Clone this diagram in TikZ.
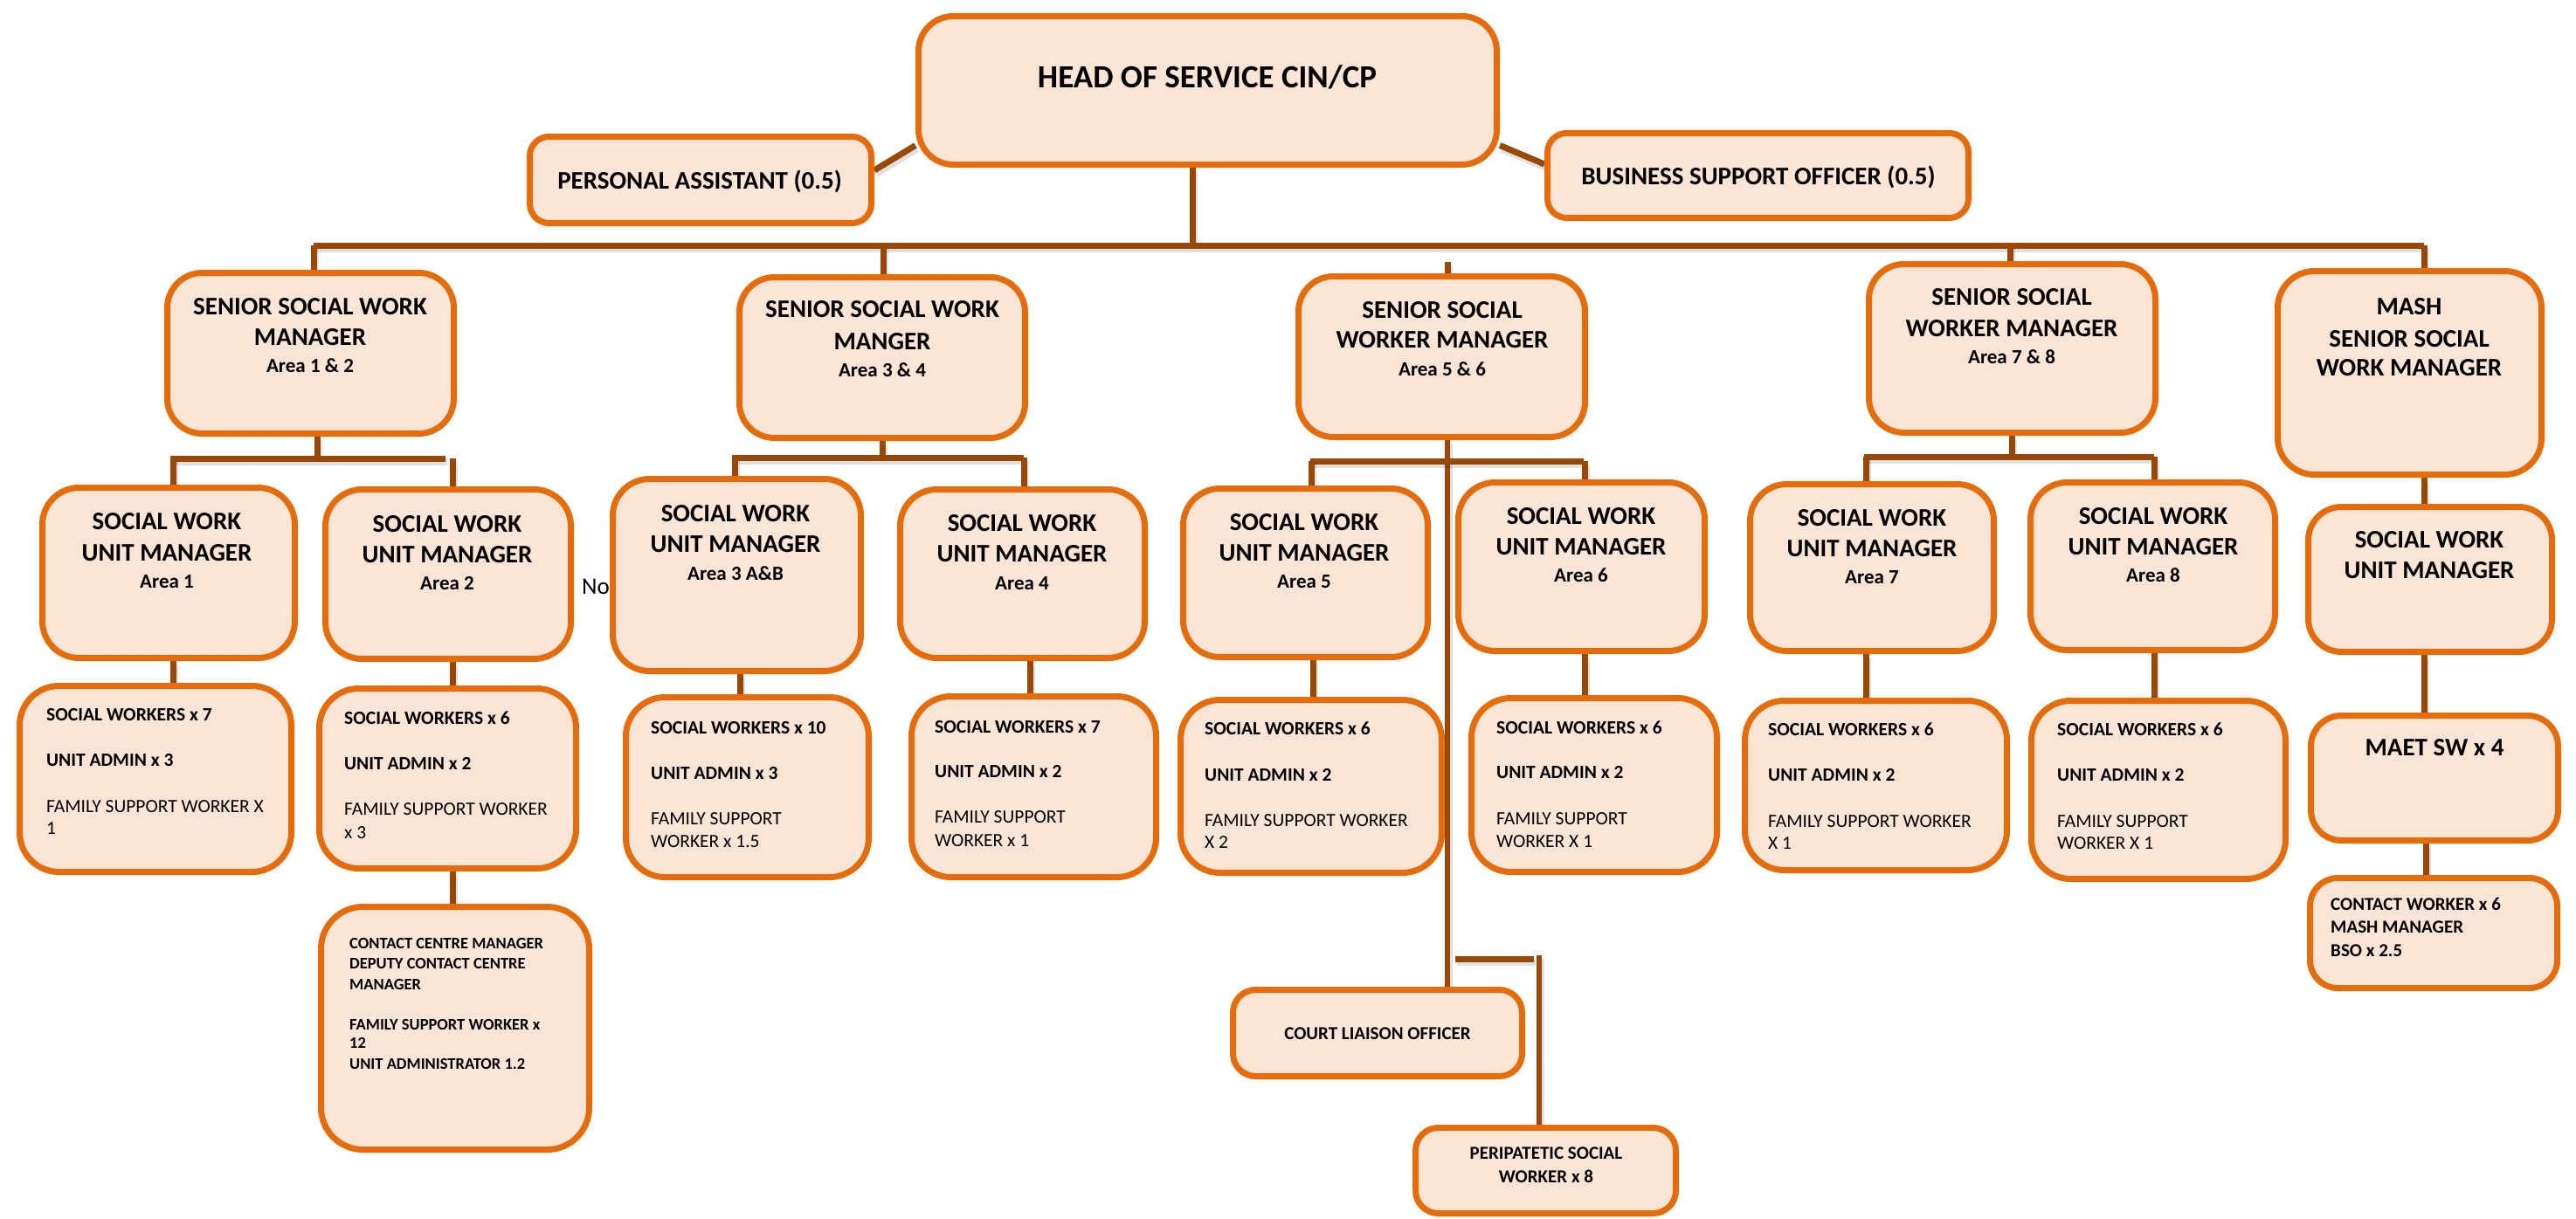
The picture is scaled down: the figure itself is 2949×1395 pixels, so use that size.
\documentclass[tikz,border=0pt]{standalone}
\usepackage{fontspec}
\setmainfont{Carlito}
\usetikzlibrary{calc}
\definecolor{bfill}{RGB}{251,229,214}
\definecolor{bline}{RGB}{228,108,10}
\definecolor{cline}{RGB}{152,72,7}
\pgfdeclarelayer{bg}
\pgfsetlayers{bg,main}
\newcommand\mkbox[6]{%
  \pgfmathsetmacro\bxw{#4-#2-7}%
  \pgfmathsetmacro\bxh{#5-#3-7}%
  \pgfmathsetmacro\bxcx{(#2+#4)/2}%
  \pgfmathsetmacro\bxcy{(#3+#5)/2}%
  \node[orgbox, rounded corners=#6pt, minimum width=\bxw pt, minimum height=\bxh pt] (#1) at (\bxcx,\bxcy) {};}
\tikzset{
  orgbox/.style={draw=bline, fill=bfill, line width=7pt, inner sep=0pt},
  conn/.style={draw=cline, line width=7pt,
    preaction={draw=black, draw opacity=0.12, line width=8pt, transform canvas={shift={(2pt,-4pt)}}}},
  tA/.style={font=\bfseries\fontsize{37}{44}\selectfont, anchor=base, inner sep=0pt},
  tB/.style={font=\bfseries\fontsize{29}{34}\selectfont, anchor=base, inner sep=0pt},
  tC/.style={font=\bfseries\fontsize{29}{34}\selectfont, anchor=base, inner sep=0pt},
  tD/.style={font=\bfseries\fontsize{23}{27}\selectfont, anchor=base, inner sep=0pt},
  tE/.style={font=\bfseries\fontsize{21.5}{26}\selectfont, anchor=base west, inner sep=0pt},
  tF/.style={font=\fontsize{21.5}{26}\selectfont, anchor=base west, inner sep=0pt},
  tG/.style={font=\bfseries\fontsize{18.5}{22}\selectfont, anchor=base west, inner sep=0pt},
  tH/.style={font=\bfseries\fontsize{21}{25}\selectfont, anchor=base west, inner sep=0pt},
  tI/.style={font=\bfseries\fontsize{21}{25}\selectfont, anchor=base, inner sep=0pt},
  tN/.style={font=\fontsize{27}{32}\selectfont, anchor=base west, inner sep=0pt},
}
\begin{document}
\begin{tikzpicture}[x=1pt,y=-1pt]
\useasboundingbox (0,0) rectangle (2949,1395);
% top level
\mkbox{head}{1048}{15}{1717}{192}{40}
\mkbox{pa}{603}{153}{1001}{259}{22}
\mkbox{bso}{1768}{149}{2257}{253}{22}
% senior managers
\mkbox{s1}{188}{309}{523}{500}{40}
\mkbox{s2}{843}{314}{1177}{505}{40}
\mkbox{s3}{1483}{313}{1818}{504}{40}
\mkbox{s4}{2136}{299}{2471}{499}{40}
\mkbox{s5}{2604}{307}{2913}{547}{42}
% unit managers
\mkbox{u1}{45}{555}{341}{757}{42}
\mkbox{u2}{369}{557}{657}{758}{42}
\node[tN] (nofrag) at (666,680) {No};
\mkbox{u3}{698}{545}{989}{772}{42}
\mkbox{u4}{1027}{557}{1314}{757}{42}
\mkbox{u5}{1351}{556}{1638}{756}{42}
\mkbox{u6}{1666}{549}{1955}{749}{42}
\mkbox{u7}{2000}{551}{2286}{749}{42}
\mkbox{u8}{2321}{549}{2608}{748}{42}
\mkbox{u9}{2639}{577}{2925}{750}{38}
% teams
\mkbox{w1}{19}{782}{337}{1002}{45}
\mkbox{w2}{362}{785}{663}{998}{45}
\mkbox{w3}{713}{795}{998}{1008}{45}
\mkbox{w4}{1040}{794}{1327}{1008}{45}
\mkbox{w5}{1348}{798}{1654}{1003}{45}
\mkbox{w6}{1681}{796}{1969}{1002}{45}
\mkbox{w7}{1994}{799}{2301}{1000}{45}
\mkbox{w8}{2322}{799}{2620}{1010}{45}
\mkbox{maet}{2642}{816}{2932}{966}{35}
\mkbox{contact}{2641}{1002}{2931}{1135}{32}
\mkbox{ccm}{364}{1035}{678}{1320}{48}
\mkbox{court}{1408}{1130}{1746}{1236}{26}
\mkbox{peri}{1617}{1288}{1922}{1393}{26}

% texts
\node[tA] (headt) at (1382,100) {HEAD OF SERVICE CIN/CP};
\node[tB] (pat) at (801,216) {PERSONAL ASSISTANT (0.5)};
\node[tB] (bsot) at (2013,211) {BUSINESS SUPPORT OFFICER (0.5)};

\node[tC] (s1a) at (355,360) {SENIOR SOCIAL WORK};
\node[tC] (s1b) at (355,395) {MANAGER};
\node[tD] (s1c) at (355,426) {Area 1 \& 2};
\node[tC] (s2a) at (1010,363) {SENIOR SOCIAL WORK};
\node[tC] (s2b) at (1010,400) {MANGER};
\node[tD] (s2c) at (1010,431) {Area 3 \& 4};
\node[tC] (s3a) at (1651,364) {SENIOR SOCIAL};
\node[tC] (s3b) at (1651,398) {WORKER MANAGER};
\node[tD] (s3c) at (1651,430) {Area 5 \& 6};
\node[tC] (s4a) at (2303,349) {SENIOR SOCIAL};
\node[tC] (s4b) at (2303,385) {WORKER MANAGER};
\node[tD] (s4c) at (2303,416) {Area 7 \& 8};
\node[tC] (s5a) at (2758,360) {MASH};
\node[tC] (s5b) at (2758,397) {SENIOR SOCIAL};
\node[tC] (s5c) at (2758,430) {WORK MANAGER};

\node[tC] (u1a) at (191,606) {SOCIAL WORK};
\node[tC] (u1b) at (191,642) {UNIT MANAGER};
\node[tD] (u1c) at (191,673) {Area 1};
\node[tC] (u2a) at (512,609) {SOCIAL WORK};
\node[tC] (u2b) at (512,644) {UNIT MANAGER};
\node[tD] (u2c) at (512,675) {Area 2};
\node[tC] (u3a) at (842,597) {SOCIAL WORK};
\node[tC] (u3b) at (842,632) {UNIT MANAGER};
\node[tD] (u3c) at (842,664) {Area 3 A\&B};
\node[tC] (u4a) at (1170,608) {SOCIAL WORK};
\node[tC] (u4b) at (1170,643) {UNIT MANAGER};
\node[tD] (u4c) at (1170,675) {Area 4};
\node[tC] (u5a) at (1493,607) {SOCIAL WORK};
\node[tC] (u5b) at (1493,642) {UNIT MANAGER};
\node[tD] (u5c) at (1493,673) {Area 5};
\node[tC] (u6a) at (1810,600) {SOCIAL WORK};
\node[tC] (u6b) at (1810,635) {UNIT MANAGER};
\node[tD] (u6c) at (1810,666) {Area 6};
\node[tC] (u7a) at (2143,602) {SOCIAL WORK};
\node[tC] (u7b) at (2143,637) {UNIT MANAGER};
\node[tD] (u7c) at (2143,668) {Area 7};
\node[tC] (u8a) at (2465,600) {SOCIAL WORK};
\node[tC] (u8b) at (2465,635) {UNIT MANAGER};
\node[tD] (u8c) at (2465,666) {Area 8};
\node[tC] (u9a) at (2781,627) {SOCIAL WORK};
\node[tC] (u9b) at (2781,662) {UNIT MANAGER};

\node[tE] (w1a) at (53,825) {SOCIAL WORKERS x 7};
\node[tE] (w1b) at (53,877) {UNIT ADMIN x 3};
\node[tF] (w1c) at (53,930) {FAMILY SUPPORT WORKER X};
\node[tF] (w1d) at (53,955) {1};
\node[tE] (w2a) at (394,829) {SOCIAL WORKERS x 6};
\node[tE] (w2b) at (394,881) {UNIT ADMIN x 2};
\node[tF] (w2c) at (394,933) {FAMILY SUPPORT WORKER};
\node[tF] (w2d) at (394,960) {x 3};
\node[tE] (w3a) at (745,840) {SOCIAL WORKERS x 10};
\node[tE] (w3b) at (745,892) {UNIT ADMIN x 3};
\node[tF] (w3c) at (745,944) {FAMILY SUPPORT};
\node[tF] (w3d) at (745,970) {WORKER x 1.5};
\node[tE] (w4a) at (1070,839) {SOCIAL WORKERS x 7};
\node[tE] (w4b) at (1070,890) {UNIT ADMIN x 2};
\node[tF] (w4c) at (1070,942) {FAMILY SUPPORT};
\node[tF] (w4d) at (1070,969) {WORKER x 1};
\node[tE] (w5a) at (1379,841) {SOCIAL WORKERS x 6};
\node[tE] (w5b) at (1379,894) {UNIT ADMIN x 2};
\node[tF] (w5c) at (1379,946) {FAMILY SUPPORT WORKER};
\node[tF] (w5d) at (1379,971) {X 2};
\node[tE] (w6a) at (1713,840) {SOCIAL WORKERS x 6};
\node[tE] (w6b) at (1713,891) {UNIT ADMIN x 2};
\node[tF] (w6c) at (1713,944) {FAMILY SUPPORT};
\node[tF] (w6d) at (1713,970) {WORKER X 1};
\node[tE] (w7a) at (2024,842) {SOCIAL WORKERS x 6};
\node[tE] (w7b) at (2024,894) {UNIT ADMIN x 2};
\node[tF] (w7c) at (2024,947) {FAMILY SUPPORT WORKER};
\node[tF] (w7d) at (2024,972) {X 1};
\node[tE] (w8a) at (2355,842) {SOCIAL WORKERS x 6};
\node[tE] (w8b) at (2355,894) {UNIT ADMIN x 2};
\node[tF] (w8c) at (2355,947) {FAMILY SUPPORT};
\node[tF] (w8d) at (2355,972) {WORKER X 1};

\node[tB] (maett) at (2787,865) {MAET SW x 4};
\node[tH] (cta) at (2668,1042) {CONTACT WORKER x 6};
\node[tH] (ctb) at (2668,1068) {MASH MANAGER};
\node[tH] (ctc) at (2668,1095) {BSO x 2.5};

\node[tG] (cca) at (400,1086) {CONTACT CENTRE MANAGER};
\node[tG] (ccb) at (400,1109) {DEPUTY CONTACT CENTRE};
\node[tG] (ccc) at (400,1133) {MANAGER};
\node[tG] (ccd) at (400,1179) {FAMILY SUPPORT WORKER x};
\node[tG] (cce) at (400,1200) {12};
\node[tG] (ccf) at (400,1224) {UNIT ADMINISTRATOR 1.2};

\node[tI] (courtt) at (1577,1190) {COURT LIAISON OFFICER};
\node[tI] (peria) at (1770,1327) {PERIPATETIC SOCIAL};
\node[tI] (perib) at (1770,1354) {WORKER x 8};

% connectors
\begin{pgfonlayer}{bg}
\coordinate (hb) at (1365,281);
\coordinate (busL) at (359,281);
\coordinate (busR) at (2775,281);
\coordinate (b2) at (1011,281);
\coordinate (st3) at (1657,300);
\coordinate (b4) at (2301,281);
\draw[conn] (hb |- head.south) -- (hb);
\draw[conn] (busL) -- (busR);
\draw[conn] (busL) -- (busL |- s1.north);
\draw[conn] (b2) -- (b2 |- s2.north);
\draw[conn] (st3) -- (st3 |- s3.north);
\draw[conn] (b4) -- (b4 |- s4.north);
\draw[conn] (busR) -- (busR |- s5.north);
\draw[conn] ($(pa.east)+(0,-11)$) -- ($(head.west)+(0,63)$);
\draw[conn] ($(head.east)+(0,63)$) -- ($(bso.west)+(0,-13)$);
% area 1 & 2
\coordinate (c1) at (363,525);
\coordinate (c1L) at (195,525);
\coordinate (c1R) at (510,525);
\coordinate (d1) at (198,525);
\coordinate (d2) at (518,525);
\draw[conn] (c1 |- s1.south) -- (c1);
\draw[conn] (c1L) -- (c1R);
\draw[conn] (d1) -- (d1 |- u1.north);
\draw[conn] (d2) -- (d2 |- u2.north);
\draw[conn] (d1 |- u1.south) -- (d1 |- w1.north);
\draw[conn] (d2 |- u2.south) -- (d2 |- w2.north);
\draw[conn] (d2 |- w2.south) -- (d2 |- ccm.north);
% area 3 & 4
\coordinate (c2) at (1010,524);
\coordinate (c2L) at (838,524);
\coordinate (c2R) at (1172,524);
\coordinate (d3) at (841,524);
\coordinate (d3b) at (847,0);
\coordinate (d4) at (1172,524);
\coordinate (d4b) at (1179,0);
\draw[conn] (c2 |- s2.south) -- (c2);
\draw[conn] (c2L) -- (c2R);
\draw[conn] (d3) -- (d3 |- u3.north);
\draw[conn] (d4) -- (d4 |- u4.north);
\draw[conn] (d3b |- u3.south) -- (d3b |- w3.north);
\draw[conn] (d4b |- u4.south) -- (d4b |- w4.north);
% area 5 & 6
\coordinate (c3) at (1657,528);
\coordinate (c3L) at (1500,528);
\coordinate (c3R) at (1813,528);
\coordinate (d5) at (1501,528);
\coordinate (d5b) at (1503,0);
\coordinate (d6) at (1814,528);
\coordinate (br1) at (1666,1098);
\coordinate (br2) at (1756,1098);
\coordinate (br3) at (1762,1094);
\draw[conn, line width=5.5pt] (c3 |- s3.south) -- (c3 |- court.north);
\draw[conn] (c3L) -- (c3R);
\draw[conn] (d5) -- (d5 |- u5.north);
\draw[conn] (d6) -- (d6 |- u6.north);
\draw[conn] (d5b |- u5.south) -- (d5b |- w5.north);
\draw[conn] (d6 |- u6.south) -- (d6 |- w6.north);
\draw[conn] (br1) -- (br2);
\draw[conn, line width=5.5pt] (br3) -- (br3 |- peri.north);
% area 7 & 8
\coordinate (c4) at (2303,523);
\coordinate (c4L) at (2134,523);
\coordinate (c4R) at (2466,523);
\coordinate (d7) at (2136,523);
\coordinate (d8) at (2466,523);
\draw[conn] (c4 |- s4.south) -- (c4);
\draw[conn] (c4L) -- (c4R);
\draw[conn] (d7) -- (d7 |- u7.north);
\draw[conn] (d8) -- (d8 |- u8.north);
\draw[conn] (d7 |- u7.south) -- (d7 |- w7.north);
\draw[conn] (d8 |- u8.south) -- (d8 |- w8.north);
% MASH
\coordinate (e1) at (2777,0);
\draw[conn] (busR |- s5.south) -- (busR |- u9.north);
\draw[conn] (busR |- u9.south) -- (busR |- maet.north);
\draw[conn] (e1 |- maet.south) -- (e1 |- contact.north);
\end{pgfonlayer}
\end{tikzpicture}
\end{document}
